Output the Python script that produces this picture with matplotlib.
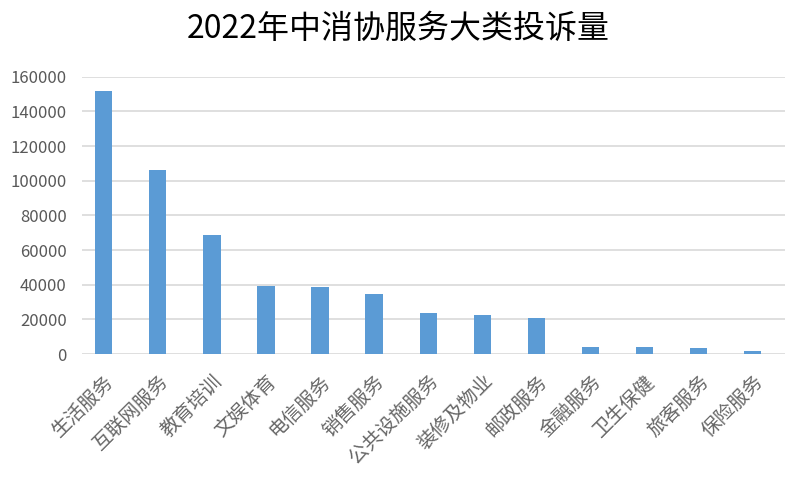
import matplotlib.pyplot as plt

plt.rcParams['font.family'] = ['Noto Sans CJK SC', 'DejaVu Sans']

# 2022 complaints by service category
categories = ['生活服务', '互联网服务', '教育培训', '文娱体育', '电信服务', '销售服务',
              '公共设施服务', '装修及物业', '邮政服务', '金融服务', '卫生保健', '旅客服务', '保险服务']
complaints = [152000, 106300, 68700, 39300, 38600, 34400, 23500, 22300, 21000, 3800, 3800, 3200, 1900]
yticks = [0, 20000, 40000, 60000, 80000, 100000, 120000, 140000, 160000]

fig = plt.figure(figsize=(7.97, 4.83), dpi=100)
ax = fig.add_axes([0.103, 0.267, 0.882, 0.574])

x = range(len(categories))
ax.bar(x, complaints, width=0.32, color='#5B9BD5', zorder=3)

ax.set_ylim(0, 160000)
ax.set_xlim(-0.4, len(categories) - 0.4)
ax.set_yticks(yticks)
ax.set_yticklabels([str(v) for v in yticks])
ax.grid(axis='y', color='#D9D9D9', linewidth=1.2, zorder=0)
for s in ax.spines.values():
    s.set_visible(False)
ax.tick_params(axis='y', length=0, pad=11, labelsize=12, labelcolor='#595959')
ax.tick_params(axis='x', length=0, pad=12)
ax.set_xticks(list(x))
ax.set_xticklabels(categories, rotation=45, ha='right', rotation_mode='anchor',
                   fontsize=14, color='#666666')

fig.text(0.5, 0.94, '2022年中消协服务大类投诉量', ha='center', va='center',
         fontsize=23, color='black')

fig.savefig('out.png', dpi=100)
